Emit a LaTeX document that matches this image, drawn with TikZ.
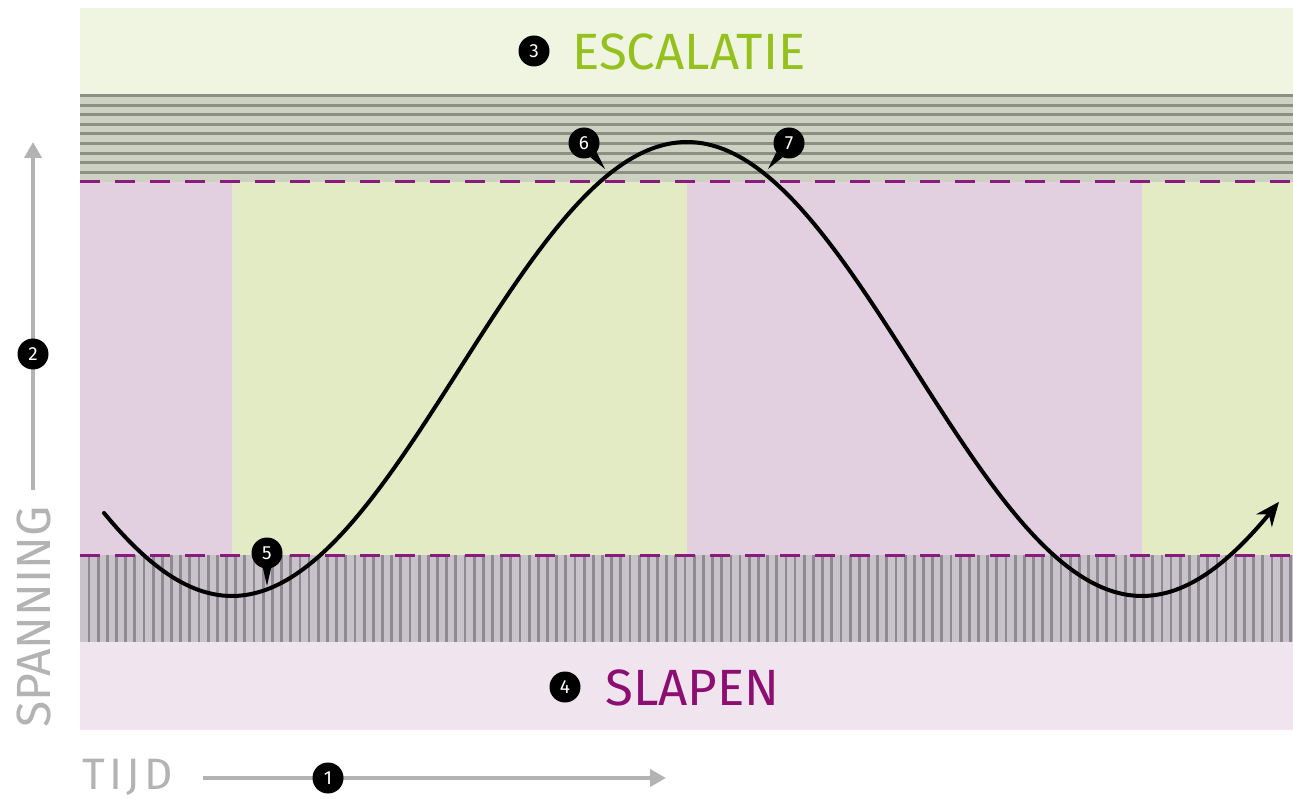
\documentclass[tikz,border=0pt]{standalone}
\usepackage{fontspec}
\setmainfont{Fira Sans}
\usetikzlibrary{arrows.meta}

\definecolor{topband}{HTML}{F0F5E2}
\definecolor{topstripe}{HTML}{CDD1C2}
\definecolor{topline}{HTML}{8C8F84}
\definecolor{midpurple}{HTML}{E2CFE0}
\definecolor{midgreen}{HTML}{E3EBC5}
\definecolor{lowstripe}{HTML}{C8C2CA}
\definecolor{lowline}{HTML}{8F8A90}
\definecolor{lowband}{HTML}{F0E4EF}
\definecolor{dashpurple}{HTML}{8B1A7E}
\definecolor{axisgray}{HTML}{B3B3B3}
\definecolor{escgreen}{HTML}{95C11F}
\definecolor{slaappurple}{HTML}{8C0E70}

\begin{document}
\begin{tikzpicture}[x=1pt, y=-1pt,
    marker/.style={circle, fill=black, text=white, minimum size=31pt, inner sep=0pt, font=\fontsize{19}{19}\selectfont},
    axis/.style={line width=4pt, axisgray, -{Triangle[length=16pt,width=17pt]}},
    border/.style={line width=3pt, dashpurple, dash pattern=on 20pt off 15pt},
    bigtext/.style={anchor=base west, inner sep=0pt, font=\fontsize{51}{51}\selectfont}]
    \useasboundingbox (0,0) rectangle (1293,799);

    % Escalation band with horizontal stripes
    \fill[topband] (80,8) rectangle (1293,95);
    \fill[topstripe] (80,95) rectangle (1293,182);
    \foreach \y in {0,...,8} \draw[topline, line width=3pt] (80,{95.5+9.6*\y}) -- (1293,{95.5+9.6*\y});

    % Middle columns
    \fill[midpurple] (80,182) rectangle (232,555);
    \fill[midgreen] (232,182) rectangle (687,555);
    \fill[midpurple] (687,182) rectangle (1142,555);
    \fill[midgreen] (1142,182) rectangle (1293,555);

    % Sleep band with vertical stripes
    \fill[lowstripe] (80,555) rectangle (1293,642);
    \foreach \i in {0,...,131} \draw[lowline, line width=2.8pt] ({89+9.17*\i},555) -- ({89+9.17*\i},642);
    \fill[lowband] (80,642) rectangle (1293,730);

    % Borders
    \draw[border] (80,182) -- (1293,182);
    \draw[border] (80,555) -- (1293,555);

    % Tension curve
    \draw[line width=4pt, line cap=round, -{Stealth[length=24pt,width=20pt]}, domain=104:1279, samples=150, smooth]
        plot (\x,{369+227*cos(0.3956*(\x-232))});

    % Band labels
    \node[marker] (m3) at (534,51) {3};
    \node[bigtext, text=escgreen] (escalatie) at (572,70) {ESCALATIE};
    \node[marker] (m4) at (565,687) {4};
    \node[bigtext, text=slaappurple] (slapen) at (605,705) {SLAPEN};

    % Curve markers
    \node[marker] (m5) at (267,553) {5};
    \coordinate (tip5) at (267,586);
    \fill (m5.255) -- (tip5) -- (m5.285) -- cycle;
    \node[marker] (m6) at (584,143) {6};
    \coordinate (tip6) at (605,169);
    \fill (m6.294) -- (tip6) -- (m6.324) -- cycle;
    \node[marker] (m7) at (789,143) {7};
    \coordinate (tip7) at (768,169);
    \fill (m7.216) -- (tip7) -- (m7.246) -- cycle;

    % Axes
    \coordinate (ybase) at (33,490);
    \coordinate (ytop) at (33,142);
    \draw[axis] (ybase) -- (ytop);
    \node[marker] (m2) at (33,354) {2};
    \node[bigtext, axisgray, rotate=90, font=\fontsize{48}{48}\selectfont] (spanning) at (50,728) {SPANNING};

    \node[bigtext, axisgray, font=\fontsize{44}{44}\selectfont\addfontfeatures{LetterSpace=10}] (tijd) at (82,789) {TIJD};
    \coordinate (xbase) at (203,778);
    \coordinate (xtip) at (666,778);
    \draw[axis] (xbase) -- (xtip);
    \node[marker] (m1) at (328,778) {1};

\end{tikzpicture}
\end{document}
